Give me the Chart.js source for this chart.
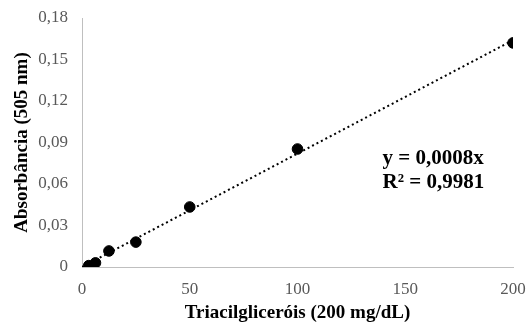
<!DOCTYPE html>
<html>
<head>
<meta charset="utf-8">
<script src="https://cdn.jsdelivr.net/npm/chart.js@4"></script>
<style>
  html, body { margin: 0; padding: 0; background: #fff; }
  #wrap { width: 529px; height: 331px; }
</style>
</head>
<body>
<div id="wrap"><canvas id="chart" width="529" height="331"></canvas></div>
<script>
'use strict';

// ── Data ───────────────────────────────────────────────────────
const concentrations = [3.125, 6.25, 12.5, 25, 50, 100, 200];
const absorbances    = [0.001, 0.003, 0.0116, 0.018, 0.0434, 0.0853, 0.162];
const equationLines  = ['y = 0,0008x', 'R² = 0,9981'];

const SERIF = '"Liberation Serif", "Times New Roman", serif';

// least squares through origin (Excel "set intercept = 0")
const sxy = concentrations.reduce((s, x, i) => s + x * absorbances[i], 0);
const sxx = concentrations.reduce((s, x) => s + x * x, 0);
const slope = sxy / sxx;
const trend = [0, 200].map(x => ({ x, y: slope * x }));

const equationPlugin = {
  id: 'equation',
  afterDraw(chart) {
    const { ctx, scales } = chart;
    ctx.save();
    ctx.font = 'bold 21px ' + SERIF;
    ctx.fillStyle = '#000';
    ctx.textBaseline = 'middle';
    const x0 = scales.x.getPixelForValue(139.5);
    const y0 = scales.y.getPixelForValue(0.0786);
    equationLines.forEach((t, i) => ctx.fillText(t, x0, y0 + i * 24));
    ctx.restore();
  },
};

new Chart(document.getElementById('chart'), {
  type: 'scatter',
  data: {
    datasets: [
      {
        data: concentrations.map((x, i) => ({ x, y: absorbances[i] })),
        backgroundColor: '#000',
        borderColor: '#000',
        pointRadius: 5.3,
        order: 1,
      },
      {
        type: 'line',
        data: trend,
        borderColor: '#000',
        borderWidth: 2,
        borderDash: [2, 3],
        pointRadius: 0,
        fill: false,
        order: 2,
      },
    ],
  },
  options: {
    responsive: false,
    animation: false,
    layout: { padding: { top: 18, right: 16, left: 0, bottom: 0 } },
    plugins: { legend: { display: false }, tooltip: { enabled: false } },
    scales: {
      x: {
        type: 'linear', min: 0, max: 200,
        afterFit: s => { s.height = 64; s.paddingLeft = 0; s.paddingRight = 0; },
        grid: { display: false, drawTicks: false },
        border: { color: '#bfbfbf', width: 1 },
        ticks: { stepSize: 50, autoSkip: false, maxRotation: 0, padding: 12,
                 color: '#595959', font: { family: SERIF, size: 17 } },
        title: { display: true, text: 'Triacilgliceróis (200 mg/dL)', color: '#000',
                 font: { family: SERIF, size: 19, weight: 'bold' }, padding: { top: 0, bottom: 7 } },
      },
      y: {
        min: 0, max: 0.18,
        afterFit: s => { s.width = 82; s.paddingTop = 0; s.paddingBottom = 0; },
        grid: { display: false, drawTicks: false },
        border: { color: '#bfbfbf', width: 1 },
        ticks: { stepSize: 0.03, autoSkip: false, padding: 14,
                 color: '#595959', font: { family: SERIF, size: 17 },
                 callback: v => v === 0 ? '0' : v.toFixed(2).replace('.', ',') },
        title: { display: true, text: 'Absorbância (505 nm)', color: '#000',
                 font: { family: SERIF, size: 19, weight: 'bold' }, padding: { top: 11, bottom: 0 } },
      },
    },
  },
  plugins: [equationPlugin],
});
</script>
</body>
</html>
